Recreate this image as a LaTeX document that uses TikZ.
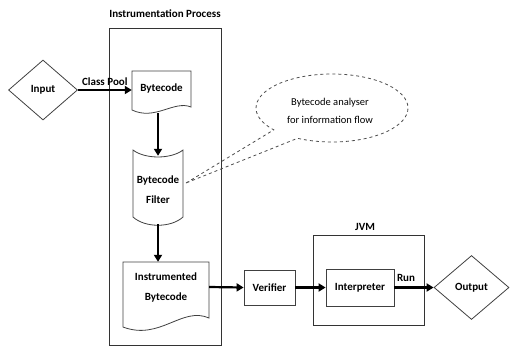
\documentclass[tikz,border=0pt]{standalone}
\usepackage{fontspec}
\setmainfont{Carlito}
\usetikzlibrary{shapes.geometric,arrows.meta,calc}
\begin{document}
\begin{tikzpicture}[x=1pt,y=-1pt,
  txt/.style={font=\fontsize{11}{20}\selectfont\bfseries, inner sep=0pt, align=center},
  ghost/.style={txt, minimum width=#1},
  boxed/.style={txt, draw=black!75, line width=0.8pt},
  outline/.style={draw=black!75, line width=0.8pt},
  arr/.style={line width=2.2pt, -{Triangle[length=7pt,width=8pt]}},
  callout/.style={draw=black!70, dashed, line width=0.8pt}]
\useasboundingbox (0,0) rectangle (510,349);

% Instrumentation process frame
\node[draw=black!80, line width=0.8pt, minimum width=112pt, minimum height=317pt, inner sep=0pt] (proc) at (165,186.5) {};
\node[txt] (proctitle) at (165,14) {Instrumentation Process};

% Input / Output diamonds
\node[txt, draw=black!75, line width=0.8pt, diamond, minimum width=69pt, minimum height=60pt] (in) at (43,90) {Input};
\node[txt, draw=black!75, line width=0.8pt, diamond, minimum width=75pt, minimum height=64pt] (out) at (471.5,287.5) {Output};

% Bytecode document
\node[txt, minimum width=59pt, minimum height=42pt, text depth=8pt] (bc) at (161.5,92) {Bytecode};
\draw[outline] (132,71) -- (191,71) -- (191,107)
  .. controls (174,100) and (155,121) .. (132,110) -- cycle;

% Bytecode filter (stored data shape)
\node[txt, minimum width=50pt, minimum height=68pt] (filt) at (158,190) {Bytecode\\Filter};
\draw[outline] (133,150) .. controls (145,159.3) and (171,159.3) .. (183,150)
  -- (183,217) .. controls (171,228) and (145,228) .. (133,217) -- cycle;

% Instrumented bytecode document
\node[txt, minimum width=86pt, minimum height=50pt] (ib) at (166,287) {Instrumented\\Bytecode};
\draw[outline] (123,262) -- (209,262) -- (209,318)
  .. controls (182,306) and (160,341) .. (123,327) -- cycle;

% Verifier, JVM, Interpreter
\node[boxed, minimum width=51pt, minimum height=35pt] (ver) at (269.5,287.5) {Verifier};
\node[draw=black!80, line width=0.8pt, minimum width=111pt, minimum height=90pt, inner sep=0pt] (jvm) at (368.5,280) {};
\node[txt] (jvmtitle) at (365,227) {JVM};
\node[boxed, minimum width=68pt, minimum height=37pt] (interp) at (360,287.5) {Interpreter};

% Callout
\coordinate (cc) at (332,108);
\coordinate (tip) at (186,183);
\draw[callout] (tip) -- ($(cc)+(140:76 and 34)$)
  arc[start angle=140, end angle=477, x radius=76, y radius=34] -- cycle;
\node[font=\fontsize{10.5}{18}\selectfont, inner sep=0pt, align=center] (note) at (330,111) {Bytecode analyser\\for information flow};

% Connectors
\draw[arr] (in.east) -- (bc.west |- in.east) node[midway, above=3pt, txt] (cp) {Class Pool};
\draw[arr] (bc.south -| filt.north) -- (filt.north);
\draw[arr] (filt.south) -- (filt.south |- ib.north);
\draw[arr] (ib.east) -- (ver.west);
\draw[arr] (ver.east) -- (interp.west);
\draw[arr] (interp.east) -- (out.west);
\node[txt] (run) at (406,278) {Run};
\end{tikzpicture}
\end{document}
